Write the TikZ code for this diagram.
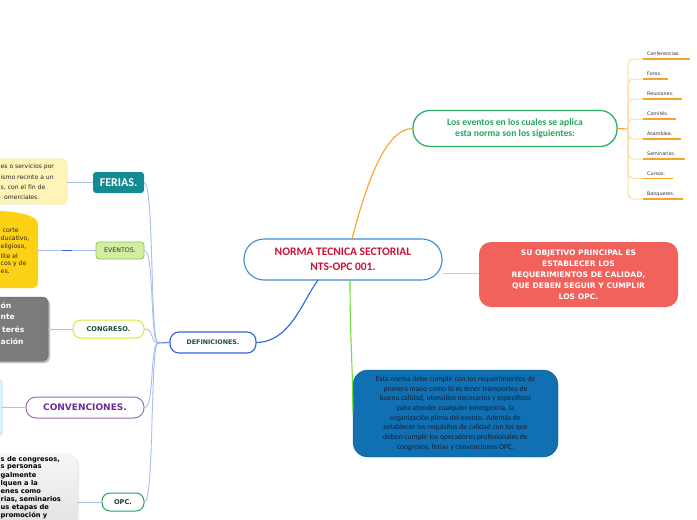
\documentclass[tikz,border=0pt]{standalone}
\usepackage{fontspec}
\setmainfont{DejaVu Sans}
\newfontfamily\carl{Carlito}
\usetikzlibrary{calc}
\definecolor{rootblue}{HTML}{3C8DD6}
\definecolor{rootred}{HTML}{CC1237}
\definecolor{orangeln}{HTML}{F7A428}
\definecolor{orangelt}{HTML}{FCDCA6}
\definecolor{greenbd}{HTML}{2BB163}
\definecolor{greentx}{HTML}{23A85A}
\definecolor{salmon}{HTML}{F0625B}
\definecolor{ygreen}{HTML}{CDEA2C}
\definecolor{vgreen}{HTML}{6FE03A}
\definecolor{boxblue}{HTML}{1170B2}
\definecolor{boxtext}{HTML}{10213A}
\definecolor{defblue}{HTML}{2F62E6}
\definecolor{ltblue}{HTML}{A7BEF6}
\definecolor{darkgreen}{HTML}{1E4D3B}
\definecolor{teal}{HTML}{148B93}
\definecolor{evfill}{HTML}{D3EDA3}
\definecolor{evbd}{HTML}{8EC74F}
\definecolor{congbd}{HTML}{D6EC2E}
\definecolor{purp}{HTML}{9A6DB8}
\definecolor{purptx}{HTML}{6E2D92}
\definecolor{opcbd}{HTML}{22A559}
\definecolor{lyellow}{HTML}{FFF4B8}
\definecolor{lyellowbd}{HTML}{FBE89C}
\definecolor{gold}{HTML}{FCD116}
\definecolor{graybox}{HTML}{7B7B7B}
\definecolor{cyanbox}{HTML}{DDF5FB}
\definecolor{cyanbd}{HTML}{A9E3F2}
\begin{document}
\begin{tikzpicture}[x=1pt,y=-1pt,
  box/.style={inner sep=0pt, align=center},
  rootnode/.style={box, draw=rootblue, line width=1.1pt, fill=white, rounded corners=20pt,
     minimum width=198pt, minimum height=41pt, text=rootred,
     font=\carl\bfseries\fontsize{11.5}{14.5}\selectfont},
  evnode/.style={box, draw=greenbd, line width=1.3pt, fill=white, rounded corners=17pt,
     minimum width=204pt, minimum height=36pt, text=greentx,
     font=\carl\bfseries\fontsize{9.6}{11}\selectfont},
  objnode/.style={box, fill=salmon, rounded corners=12pt, minimum width=199pt, minimum height=65pt,
     text=white, font=\bfseries\fontsize{7.6}{11}\selectfont},
  normnode/.style={box, fill=boxblue, draw=boxblue!80!black, line width=0.4pt, rounded corners=15pt,
     minimum width=205pt, minimum height=87pt, text=boxtext,
     font=\carl\fontsize{7.6}{9.67}\selectfont},
  defnode/.style={box, draw=defblue, line width=1.1pt, fill=white, rounded corners=9pt,
     minimum width=86pt, minimum height=21pt, text=darkgreen, font=\bfseries\fontsize{6.3}{8}\selectfont},
  item/.style={inner sep=0pt, anchor=base west, text=black!80, font=\fontsize{4.8}{6}\selectfont},
  cut/.style={inner sep=0pt, anchor=west},
  cutyel/.style={cut, text=black!85, font=\fontsize{6.1}{7}\selectfont},
  cutgold/.style={cut, text=black!85, font=\fontsize{6.2}{7}\selectfont},
  cutgray/.style={cut, text=white, font=\bfseries\fontsize{7.6}{9}\selectfont},
  cutopc/.style={cut, text=black, font=\bfseries\fontsize{6.7}{8}\selectfont},
  branch/.style={ltblue, line width=0.9pt},
  ]
\clip (0,0) rectangle (697,520);
\fill[white] (0,0) rectangle (697,520);

% ---------- left description boxes (cut by the edge) ----------
\draw[fill=lyellow, draw=lyellowbd, line width=0.6pt, rounded corners=5pt] (-20,159) rectangle (67,204);
\node[cutyel] at (0.5,167) {es o servicios por};
\node[cutyel] at (0.5,177) {ismo recinto a un};
\node[cutyel] at (0.5,187.3) {s, con el fin de};
\node[cutyel] at (4,197.5) {omerciales.};

\fill[gold] (-4,211) .. controls (14,211) and (28,214) .. (34,218)
   .. controls (37,220) and (38,222) .. (38,226) -- (38,282)
   .. controls (38,286) and (36,288) .. (32,288) -- (-4,288) -- cycle;
\node[cutgold] at (2.5,230) {corte};
\node[cutgold] at (0.5,238.5) {ducativo,};
\node[cutgold] at (0.5,247) {eligioso,};
\node[cutgold] at (0.5,255.7) {lite el};
\node[cutgold] at (0.5,264) {cos y de};
\node[cutgold] at (0.5,272.3) {es.};

\fill[black!25, rounded corners=5pt] (-20,299) rectangle (50,363);
\draw[fill=graybox, draw=graybox!85!black, line width=0.5pt, rounded corners=5pt] (-20,297) rectangle (48,361);
\node[cutgray] at (0.5,306) {ón};
\node[cutgray] at (0.5,317) {nte};
\node[cutgray] at (2,330) {terés};
\node[cutgray] at (0.5,342) {ación};

\draw[fill=cyanbox, draw=cyanbd, line width=0.8pt, rounded corners=4pt] (-20,379) rectangle (2,436);

\fill[black!8, rounded corners=10pt] (-20,455) rectangle (79,540);
\shade[top color=black!3, bottom color=black!13, rounded corners=10pt] (-20,453) rectangle (77,540);
\foreach \t [count=\i from 0] in {{s de congresos,}, {s personas}, {galmente}, {lquen a la}, {enes como},
    {rias, seminarios}, {us etapas de}, {promoción y}}{
  \node[cutopc] (opcline\i) at (0.5,459.5+8.05*\i) {\t};
}

% ---------- anchor points on the left boxes ----------
\coordinate (feriasdesc) at (67,182.5);
\coordinate (eventosdesc) at (38,250.5);
\coordinate (congdesc) at (48,329);
\coordinate (convdesc) at (2,407.5);
\coordinate (opcdesc) at (77,502);

% ---------- main nodes ----------
\node[rootnode] (root) at (343,259.5) {NORMA TECNICA SECTORIAL\\NTS-OPC 001.};
\node[evnode] (ev) at (515,128.5) {Los eventos en los cuales se aplica\\esta norma son los siguientes:};
\node[objnode] (obj) at (578.5,274.5) {SU OBJETIVO PRINCIPAL ES\\ESTABLECER LOS\\REQUERIMIENTOS DE CALIDAD,\\QUE DEBEN SEGUIR Y CUMPLIR\\LOS OPC.};
\node[normnode] (norm) at (455.5,413.5) {Esta norma debe cumplir con los requerimientos de\\primera mano como lo es tener transportes de\\buena calidad, utensilios necesarios y específicos\\para atender cualquier emergencia, la\\organización plena del evento. Además de\\establecer los requisitos de calidad con los que\\deben cumplir los operadores profesionales de\\congresos, ferias y convenciones OPC.};
\node[defnode] (def) at (213,342.5) {DEFINICIONES.};

\node[box, fill=teal, rounded corners=3pt, minimum width=51pt, minimum height=21pt, text=white,
   font=\carl\bfseries\fontsize{12}{14}\selectfont] (ferias) at (118.5,182.5) {FERIAS.};
\node[box, fill=evfill, draw=evbd, line width=0.8pt, rounded corners=3pt, minimum width=48pt, minimum height=17pt,
   text=black!80, font=\fontsize{6.3}{8}\selectfont] (eventos) at (120,250.5) {EVENTOS.};
\node[box, fill=white, draw=congbd, line width=1pt, rounded corners=8pt, minimum width=71pt, minimum height=18pt,
   text=darkgreen, font=\bfseries\fontsize{6.6}{8}\selectfont] (cong) at (108.5,329) {CONGRESO.};
\node[box, fill=white, draw=purp, line width=1pt, rounded corners=10pt, minimum width=118pt, minimum height=21pt,
   text=purptx, font=\bfseries\fontsize{9}{11}\selectfont] (conv) at (85,407.5) {CONVENCIONES.};
\node[box, fill=white, draw=opcbd, line width=1pt, rounded corners=8pt, minimum width=42pt, minimum height=18pt,
   text=darkgreen!80!black, font=\bfseries\fontsize{6.6}{8}\selectfont] (opc) at (123,502) {OPC.};

% ---------- connectors from the root ----------
\draw[orangeln, line width=1.1pt] (352,239) .. controls (366,185) and (385,129) .. (ev.west);
\draw[ygreen, line width=1.1pt] (root.east |- 0,273.5) -- (obj.west |- 0,273.5);
\draw[vgreen, line width=1.1pt] (350,280) .. controls (350,340) and (353,370) .. (norm.west);
\draw[defblue, line width=1.1pt] (318,280) .. controls (302,302) and (290,342) .. (def.east);

% ---------- list of events ----------
\coordinate (K) at (628,129);
\draw[orangeln, line width=1.1pt] (ev.east) -- (K);
\foreach \y/\t/\e/\n in {59/Conferencias./690/a, 79/Foros./668/b, 99/Reuniones./682/c, 119/Comités./676/d,
   139/Asamblea./681/e, 159/Seminarios./685/f, 178.5/Cursos./673/g, 199/Banquetes./683/h}{
  \coordinate (s\n) at (643,\y);
  \coordinate (e\n) at (\e,\y);
  \draw[orangelt, line width=1pt, rounded corners=6pt] (K) |- (s\n);
  \draw[orangeln, line width=1.1pt] (s\n) -- (e\n);
  \node[item] (i\n) at (647,\y-3.5) {\t};
}

% ---------- definitions branches ----------
\coordinate (J) at (158,343);
\draw[defblue!80, line width=1.1pt] (def.west) -- (J);
\foreach \c in {ferias, eventos, cong, conv, opc}{
  \draw[branch] (J) .. controls (150,343) and ($(\c.east)+(10,0)$) .. (\c.east);
}
\draw[branch] (ferias.west) -- (feriasdesc);
\draw[branch] (eventos.west) -- (eventosdesc);
\draw[defblue, line width=1.4pt] (62,250.5) -- (72,250.5);
\draw[branch] (cong.west) -- (congdesc);
\draw[branch] (conv.west) -- (convdesc);
\draw[branch] (opc.west) -- (opcdesc);
\end{tikzpicture}
\end{document}
